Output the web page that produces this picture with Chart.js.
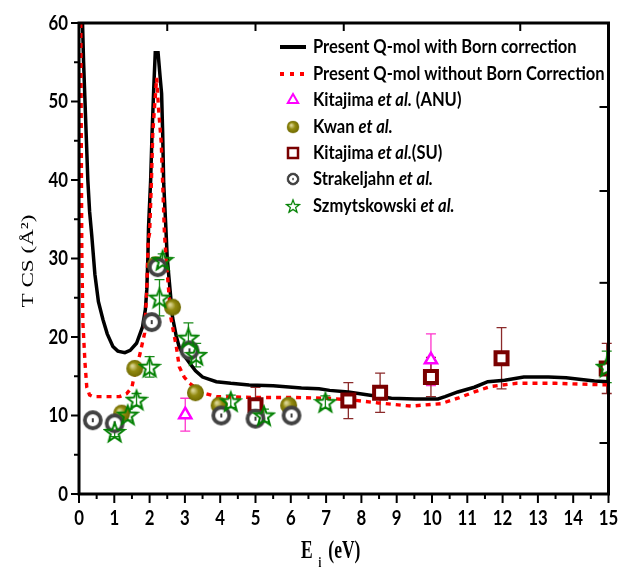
<!DOCTYPE html>
<html>
<head>
<meta charset="utf-8">
<script src="https://cdn.jsdelivr.net/npm/chart.js@4.4.1/dist/chart.umd.min.js"></script>
<style>
  html, body { margin: 0; padding: 0; background: #fff; }
</style>
</head>
<body>
<canvas id="tcsChart" width="621" height="568"></canvas>
<script>
// --- data ---
// Present Q-mol with Born correction
const bornE   = [0.10, 0.13, 0.17, 0.21, 0.25, 0.30, 0.36, 0.45, 0.55, 0.68, 0.80, 0.96, 1.10, 1.30, 1.45, 1.63, 1.80, 1.88, 1.92, 1.95, 1.97, 2.03, 2.07, 2.12, 2.16, 2.24, 2.30, 2.34, 2.37, 2.40, 2.46, 2.50, 2.56, 2.65, 2.75, 2.84, 3.00, 3.13, 3.30, 3.50, 3.89, 4.30, 4.82, 5.50, 6.30, 6.80, 7.10, 7.63, 8.20, 8.85, 9.52, 10.17, 10.37, 10.73, 11.20, 11.58, 12.06, 12.60, 13.30, 13.80, 14.60, 15.00];
const bornTcs = [60, 55, 50, 45, 40, 36, 33, 28, 24.5, 22.2, 20.4, 18.8, 18.2, 18.0, 18.3, 19.2, 21.3, 23.5, 26, 30, 34, 40, 46, 52, 56.2, 56.2, 53, 51, 46, 39.5, 34, 30, 27, 22.5, 20.2, 18.7, 17.5, 16.7, 15.7, 14.9, 14.3, 14.1, 13.9, 13.8, 13.5, 13.4, 13.2, 13.0, 12.6, 12.2, 12.1, 12.1, 12.4, 13.0, 13.6, 14.3, 14.5, 14.9, 14.9, 14.8, 14.4, 14.3];

// Present Q-mol without Born correction
const noBornE   = [0.05, 0.06, 0.07, 0.08, 0.11, 0.17, 0.22, 0.30, 0.40, 1.15, 1.35, 1.50, 1.58, 1.72, 1.86, 1.92, 1.96, 2.00, 2.05, 2.09, 2.14, 2.20, 2.25, 2.33, 2.37, 2.42, 2.47, 2.50, 2.60, 2.76, 2.84, 2.98, 3.13, 3.50, 3.89, 5.00, 6.00, 7.00, 7.70, 8.48, 9.40, 10.25, 10.73, 11.20, 11.66, 12.40, 13.50, 14.96];
const noBornTcs = [60, 50, 40, 31, 21.8, 16.7, 13.6, 12.6, 12.4, 12.4, 12.8, 13.6, 15.4, 17.7, 20.5, 26, 32.4, 33.2, 39.6, 46, 49.3, 53, 49.3, 44.7, 39.6, 33.2, 30, 28.2, 22.5, 18.7, 16.2, 14.9, 14.1, 12.9, 12.4, 12.3, 12.3, 12.2, 12.0, 11.6, 11.2, 11.5, 12.2, 13.0, 13.7, 14.1, 14.1, 13.9];

// Kitajima et al. (ANU)
const anuE   = [3.01, 9.97];
const anuTcs = [10.1, 17.1];
const anuErr = [2.1, 3.3];

// Kwan et al.
const kwanE   = [1.21, 1.58, 2.17, 2.65, 3.30, 3.97, 5.94];
const kwanTcs = [10.3, 16.0, 29.2, 23.8, 12.9, 11.3, 11.3];

// Kitajima et al. (SU)
const suE   = [5.00, 7.63, 8.53, 9.97, 11.97, 14.95];
const suTcs = [11.3, 11.9, 12.9, 14.9, 17.3, 16.0];
const suErr = [2.3, 2.3, 2.5, 2.5, 3.9, 3.2];

// Strakeljahn et al.
const strakE   = [0.39, 1.01, 2.06, 2.23, 3.13, 4.03, 5.00, 6.02];
const strakTcs = [9.4, 9.0, 21.9, 28.9, 18.3, 10.0, 9.6, 10.0];

// Szmytskowski et al.
const szmE   = [1.01, 1.38, 1.63, 2.00, 2.28, 2.37, 3.10, 3.32, 4.30, 5.24, 6.98, 14.95];
const szmTcs = [7.9, 10.1, 12.0, 16.2, 25.0, 29.8, 19.9, 17.7, 11.8, 10.0, 11.7, 16.2];
const szmErr = [0.6, 0.7, 0.8, 1.3, 2.3, 0.8, 1.9, 1.5, 0.8, 0.8, 0.8, 2.0];

// axis ticks
const xTicks = [0, 1, 2, 3, 4, 5, 6, 7, 8, 9, 10, 11, 12, 13, 14, 15];
const yTicks = [0, 10, 20, 30, 40, 50, 60];
const topTicks = [2.5, 5, 7.5, 12.5];
const rightTicks = [49.3, 38.6, 26.9, 6.5];

const pts = (xs, ys) => xs.map((x, i) => ({ x: x, y: ys[i] }));

// --- marker images ---
function makeStar(r, color, lw) {
    const s = Math.ceil(2 * r + lw + 2);
    const c = document.createElement('canvas');
    c.width = c.height = s;
    const g = c.getContext('2d');
    g.beginPath();
    for (let i = 0; i < 10; i++) {
        const a = -Math.PI / 2 + i * Math.PI / 5;
        const rr = i % 2 ? r * 0.42 : r;
        g.lineTo(s / 2 + rr * Math.cos(a), s / 2 + rr * Math.sin(a) + r * 0.1);
    }
    g.closePath();
    g.strokeStyle = color;
    g.lineWidth = lw;
    g.lineJoin = 'miter';
    g.stroke();
    return c;
}

function makeRing(r, color, lw) {
    const s = Math.ceil(2 * r + lw + 2);
    const c = document.createElement('canvas');
    c.width = c.height = s;
    const g = c.getContext('2d');
    g.beginPath();
    g.arc(s / 2, s / 2, r, 0, Math.PI * 2);
    g.fillStyle = '#fff';
    g.fill();
    g.strokeStyle = color;
    g.lineWidth = lw;
    g.stroke();
    g.fillStyle = '#111';
    g.fillRect(s / 2 - 0.8, s / 2 - 2, 1.6, 4);
    return c;
}

function makeBall(r) {
    const s = Math.ceil(2 * r + 2);
    const c = document.createElement('canvas');
    c.width = c.height = s;
    const g = c.getContext('2d');
    const grad = g.createRadialGradient(s / 2 - r * 0.3, s / 2 - r * 0.3, 1, s / 2, s / 2, r);
    grad.addColorStop(0, '#d8d28e');
    grad.addColorStop(0.45, '#928a10');
    grad.addColorStop(1, '#6f6900');
    g.beginPath();
    g.arc(s / 2, s / 2, r, 0, Math.PI * 2);
    g.fillStyle = grad;
    g.fill();
    return c;
}

const starImg = makeStar(10, '#008000', 2);
const ringImg = makeRing(8, '#424242', 3.8);
const ballImg = makeBall(8.5);

const errorSets = [
    { e: anuE, v: anuTcs, err: anuErr, color: '#ff33cc' },
    { e: suE, v: suTcs, err: suErr, color: '#8b2a2a' },
    { e: szmE, v: szmTcs, err: szmErr, color: '#1a8a1a' }
];

function drawText(ctx, parts, x, y, size, sx) {
    let cx = x;
    parts.forEach(p => {
        ctx.save();
        ctx.font = (p[1] ? 'italic ' : '') + 'bold ' + size + 'px Lato';
        ctx.textBaseline = 'middle';
        ctx.textAlign = 'left';
        ctx.translate(cx, y);
        ctx.scale(sx, 1);
        ctx.fillStyle = '#000';
        ctx.fillText(p[0], 0, 0);
        cx += ctx.measureText(p[0]).width * sx;
        ctx.restore();
    });
}

const framePlugin = {
    id: 'frame',
    beforeDatasetsDraw(chart) {
        const ctx = chart.ctx;
        const xs = chart.scales.x, ys = chart.scales.y;
        ctx.save();
        ctx.lineWidth = 1.3;
        errorSets.forEach(s => {
            ctx.strokeStyle = s.color;
            s.e.forEach((e, i) => {
                const px = xs.getPixelForValue(e);
                const top = ys.getPixelForValue(s.v[i] + s.err[i]);
                const bot = ys.getPixelForValue(s.v[i] - s.err[i]);
                ctx.beginPath();
                ctx.moveTo(px, top); ctx.lineTo(px, bot);
                ctx.moveTo(px - 5, top); ctx.lineTo(px + 5, top);
                ctx.moveTo(px - 5, bot); ctx.lineTo(px + 5, bot);
                ctx.stroke();
            });
        });
        ctx.restore();
    },
    afterDraw(chart) {
        const ctx = chart.ctx;
        const a = chart.chartArea;
        const xs = chart.scales.x, ys = chart.scales.y;
        ctx.save();
        ctx.strokeStyle = '#000';
        ctx.lineWidth = 3;
        ctx.strokeRect(a.left, a.top, a.right - a.left, a.bottom - a.top);

        ctx.lineWidth = 2;
        for (let v = 0; v <= 15; v += 0.5) {
            const px = xs.getPixelForValue(v);
            const len = Number.isInteger(v) ? 9 : 5;
            ctx.beginPath(); ctx.moveTo(px, a.bottom); ctx.lineTo(px, a.bottom + len); ctx.stroke();
        }
        for (let v = 0; v <= 60; v += 5) {
            const py = ys.getPixelForValue(v);
            const len = v % 10 === 0 ? 8 : 5;
            ctx.beginPath(); ctx.moveTo(a.left - len, py); ctx.lineTo(a.left, py); ctx.stroke();
        }
        topTicks.forEach(v => {
            const px = xs.getPixelForValue(v);
            ctx.beginPath(); ctx.moveTo(px, a.top); ctx.lineTo(px, a.top + 8); ctx.stroke();
        });
        rightTicks.forEach(v => {
            const py = ys.getPixelForValue(v);
            ctx.beginPath(); ctx.moveTo(a.right, py); ctx.lineTo(a.right - 9, py); ctx.stroke();
        });

        // tick labels
        const tickLabel = (txt, x, y, align) => {
            ctx.save();
            ctx.font = 'bold 21px Lato';
            ctx.textAlign = align;
            ctx.textBaseline = 'middle';
            ctx.translate(x, y);
            ctx.scale(0.8, 1);
            ctx.fillStyle = '#000';
            ctx.fillText(txt, 0, 0);
            ctx.restore();
        };
        xTicks.forEach(v => tickLabel(String(v), xs.getPixelForValue(v), 518, 'center'));
        yTicks.forEach(v => tickLabel(String(v), 68, ys.getPixelForValue(v), 'right'));

        // axis titles
        ctx.save();
        ctx.translate(28, 261);
        ctx.rotate(-Math.PI / 2);
        ctx.scale(1.05, 0.8);
        ctx.font = '22px "Liberation Serif"';
        ctx.textAlign = 'center';
        ctx.textBaseline = 'middle';
        ctx.fillStyle = '#000';
        ctx.fillText('T CS (Å²)', 0, 0);
        ctx.restore();

        ctx.save();
        ctx.fillStyle = '#000';
        ctx.textBaseline = 'alphabetic';
        ctx.translate(301, 558);
        ctx.scale(0.7, 1);
        ctx.font = 'bold 25px "Liberation Serif"';
        ctx.fillText('E', 0, 0);
        ctx.font = 'bold 14px "Liberation Serif"';
        ctx.fillText('i', 25, 9);
        ctx.font = 'bold 25px "Liberation Serif"';
        ctx.fillText('(eV)', 39, 0);
        ctx.restore();

        // legend
        const lx = 293, tx = 313;
        const rows = [47, 74, 100, 127, 153, 179, 206];
        ctx.lineWidth = 4;
        ctx.strokeStyle = '#000';
        ctx.beginPath(); ctx.moveTo(280, rows[0]); ctx.lineTo(306, rows[0]); ctx.stroke();
        ctx.strokeStyle = '#ff0000';
        ctx.setLineDash([4, 6]);
        ctx.beginPath(); ctx.moveTo(280, rows[1]); ctx.lineTo(308, rows[1]); ctx.stroke();
        ctx.setLineDash([]);
        ctx.fillStyle = '#fff'; ctx.strokeStyle = '#ff00ff';
        ctx.lineWidth = 2;
        Chart.helpers.drawPoint(ctx, { pointStyle: 'triangle', radius: 6, borderWidth: 2, rotation: 0 }, lx, rows[2]);
        ctx.drawImage(ballImg, lx - 7, rows[3] - 7, 14, 14);
        ctx.strokeStyle = '#7a0000'; ctx.lineWidth = 2.5;
        ctx.strokeRect(lx - 5, rows[4] - 5, 10, 10);
        ctx.drawImage(ringImg, lx - 7, rows[5] - 7, 14, 14);
        ctx.drawImage(starImg, lx - 8, rows[6] - 8, 16, 16);

        const legendText = [
            [['Present Q-mol with Born correction', false]],
            [['Present Q-mol without Born Correction', false]],
            [['Kitajima ', false], ['et al.', true], [' (ANU)', false]],
            [['Kwan ', false], ['et al.', true]],
            [['Kitajima ', false], ['et al.', true], ['(SU)', false]],
            [['Strakeljahn ', false], ['et al.', true]],
            [['Szmytskowski ', false], ['et al.', true]]
        ];
        legendText.forEach((parts, i) => drawText(ctx, parts, tx, rows[i], 19, 0.87));
        ctx.restore();
    }
};

new Chart(document.getElementById('tcsChart'), {
    type: 'scatter',
    data: {
        datasets: [
            {
                label: 'Szmytskowski et al.',
                data: pts(szmE, szmTcs),
                pointStyle: starImg,
                order: 1
            },
            {
                label: 'Strakeljahn et al.',
                data: pts(strakE, strakTcs),
                pointStyle: ringImg,
                order: 2
            },
            {
                label: 'Kitajima et al.(SU)',
                data: pts(suE, suTcs),
                pointStyle: 'rect',
                pointRadius: 8.5,
                borderColor: '#7a0000',
                backgroundColor: '#fff',
                borderWidth: 4,
                order: 3
            },
            {
                label: 'Kwan et al.',
                data: pts(kwanE, kwanTcs),
                pointStyle: ballImg,
                order: 4
            },
            {
                label: 'Kitajima et al. (ANU)',
                data: pts(anuE, anuTcs),
                pointStyle: 'triangle',
                pointRadius: 7,
                borderColor: '#ff00ff',
                backgroundColor: '#fff',
                borderWidth: 2.5,
                order: 5
            },
            {
                label: 'Present Q-mol without Born Correction',
                data: pts(noBornE, noBornTcs),
                showLine: true,
                borderColor: '#ff0000',
                borderWidth: 3.4,
                borderDash: [5, 5],
                pointRadius: 0,
                order: 6
            },
            {
                label: 'Present Q-mol with Born correction',
                data: pts(bornE, bornTcs),
                showLine: true,
                borderColor: '#000',
                borderWidth: 3.5,
                pointRadius: 0,
                order: 7
            }
        ]
    },
    options: {
        responsive: false,
        animation: false,
        devicePixelRatio: 1,
        layout: { padding: { top: 23, right: 8, left: 0, bottom: 0 } },
        plugins: { legend: { display: false }, tooltip: { enabled: false } },
        scales: {
            x: {
                type: 'linear', min: 0, max: 15,
                grid: { display: false, drawTicks: false },
                border: { display: false },
                ticks: { display: false },
                afterFit(scale) { scale.height = 74; }
            },
            y: {
                type: 'linear', min: 0, max: 60,
                grid: { display: false, drawTicks: false },
                border: { display: false },
                ticks: { display: false },
                afterFit(scale) { scale.width = 79; }
            }
        }
    },
    plugins: [framePlugin]
});
</script>
</body>
</html>
